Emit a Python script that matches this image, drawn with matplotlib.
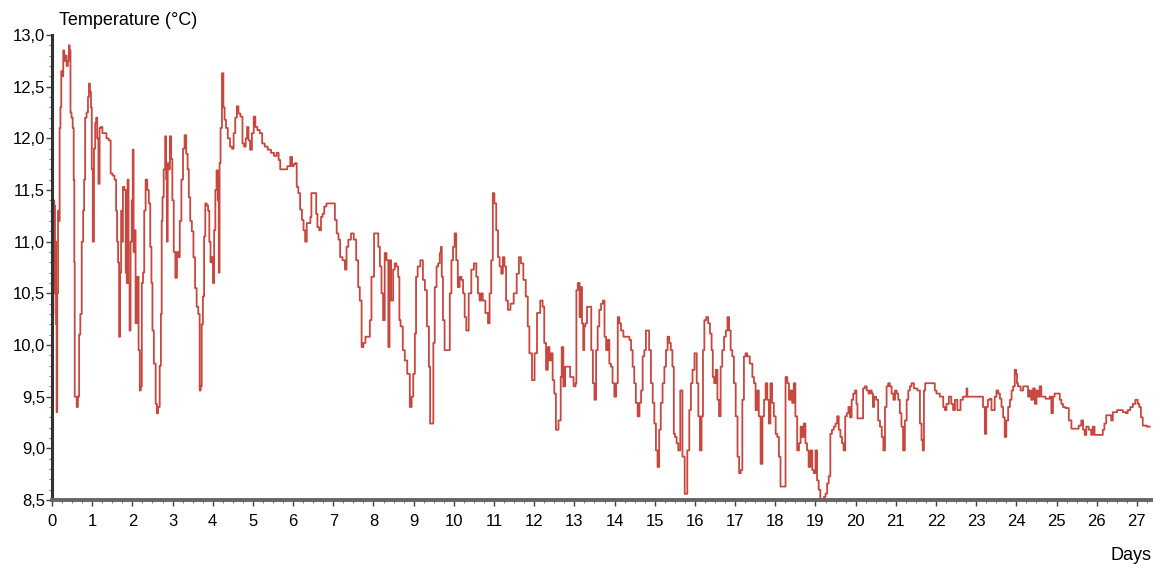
import matplotlib
matplotlib.use("Agg")
import matplotlib.pyplot as plt
from matplotlib.ticker import MultipleLocator
import numpy as np

plt.rcParams['font.family'] = ['Liberation Sans', 'DejaVu Sans']

# temperature log (day, degC)
days = [
    0.03, 0.04, 0.07, 0.08, 0.09, 0.11, 0.12, 0.14, 0.16, 0.18, 0.20, 0.22, 0.24, 0.27, 0.29,
    0.32, 0.35, 0.38, 0.41, 0.43, 0.45, 0.47, 0.50, 0.53, 0.55, 0.56, 0.57, 0.60, 0.63, 0.66,
    0.69, 0.72, 0.76, 0.79, 0.81, 0.84, 0.88, 0.91, 0.93, 0.96, 0.98, 1.00, 1.03, 1.06, 1.09,
    1.11, 1.14, 1.17, 1.20, 1.23, 1.28, 1.33, 1.38, 1.44, 1.48, 1.53, 1.58, 1.61, 1.63, 1.66,
    1.68, 1.71, 1.73, 1.75, 1.78, 1.82, 1.85, 1.87, 1.89, 1.92, 1.94, 1.97, 2.00, 2.02, 2.04,
    2.06, 2.10, 2.14, 2.17, 2.20, 2.22, 2.25, 2.28, 2.31, 2.35, 2.39, 2.43, 2.46, 2.49, 2.51,
    2.56, 2.60, 2.62, 2.66, 2.70, 2.72, 2.74, 2.76, 2.80, 2.83, 2.85, 2.87, 2.89, 2.92, 2.95,
    2.98, 3.01, 3.05, 3.09, 3.13, 3.16, 3.20, 3.24, 3.28, 3.32, 3.36, 3.39, 3.42, 3.46, 3.50,
    3.54, 3.58, 3.62, 3.66, 3.69, 3.71, 3.74, 3.77, 3.80, 3.83, 3.87, 3.90, 3.93, 3.96, 3.99,
    4.02, 4.05, 4.08, 4.11, 4.14, 4.16, 4.18, 4.21, 4.25, 4.28, 4.31, 4.35, 4.40, 4.46, 4.50,
    4.54, 4.58, 4.62, 4.66, 4.72, 4.76, 4.80, 4.84, 4.87, 4.91, 4.95, 5.00, 5.04, 5.08, 5.14,
    5.20, 5.26, 5.33, 5.41, 5.49, 5.56, 5.62, 5.66, 5.70, 5.80, 5.91, 5.95, 6.00, 6.03,
    6.07, 6.11, 6.15, 6.20, 6.24, 6.28, 6.32, 6.36, 6.42, 6.44, 6.47, 6.57, 6.58, 6.63, 6.67,
    6.72, 6.75, 6.80, 6.86, 7.02, 7.06, 7.11, 7.15, 7.19, 7.27, 7.31, 7.35, 7.40, 7.48, 7.54,
    7.60, 7.64, 7.68, 7.73, 7.77, 7.83, 7.89, 7.93, 7.97, 8.06, 8.10, 8.14, 8.18, 8.22, 8.26,
    8.30, 8.35, 8.39, 8.41, 8.47, 8.51, 8.55, 8.59, 8.64, 8.65, 8.70, 8.76, 8.80, 8.88, 8.93,
    8.97, 9.01, 9.05, 9.07, 9.13, 9.20, 9.26, 9.30, 9.36, 9.40, 9.42, 9.48, 9.50, 9.55, 9.59,
    9.63, 9.67, 9.69, 9.71, 9.75, 9.79, 9.88, 9.92, 9.96, 10.00, 10.04, 10.08, 10.12, 10.17, 10.21,
    10.25, 10.29, 10.33, 10.41, 10.46, 10.54, 10.58, 10.62, 10.66, 10.70, 10.74, 10.83, 10.87, 10.91, 10.95,
    10.99, 11.03, 11.08, 11.12, 11.16, 11.20, 11.24, 11.28, 11.32, 11.37, 11.45, 11.53, 11.60, 11.64, 11.70,
    11.76, 11.82, 11.86, 11.90, 11.99, 12.03, 12.11, 12.19, 12.23, 12.27, 12.32, 12.36, 12.40, 12.44, 12.48,
    12.52, 12.56, 12.65, 12.67, 12.70, 12.75, 12.79, 12.85, 12.94, 13.02,
    13.04, 13.06, 13.11, 13.15, 13.17, 13.21, 13.23, 13.26, 13.29, 13.34, 13.40, 13.44, 13.48, 13.52, 13.56,
    13.60, 13.64, 13.69, 13.73, 13.77, 13.81, 13.85, 13.89, 13.93, 13.97, 14.02, 14.06, 14.10, 14.14, 14.18,
    14.26, 14.35, 14.39, 14.43, 14.47, 14.51, 14.55, 14.60, 14.64, 14.68, 14.72, 14.76, 14.80, 14.84, 14.88,
    14.93, 14.97, 15.01, 15.05, 15.09, 15.13, 15.17, 15.22, 15.26, 15.30, 15.34, 15.38, 15.42, 15.46, 15.49,
    15.52, 15.57, 15.60, 15.67, 15.71, 15.78, 15.84, 15.88, 15.92, 15.96, 16.02, 16.07, 16.10, 16.15, 16.18,
    16.22, 16.25, 16.31, 16.35, 16.40, 16.43, 16.46, 16.50, 16.54, 16.58, 16.62, 16.66, 16.70, 16.75, 16.79,
    16.83, 16.87, 16.91, 16.95, 16.99, 17.04, 17.08, 17.12, 17.16, 17.20, 17.24, 17.28, 17.32, 17.41, 17.45,
    17.49, 17.53, 17.57, 17.61, 17.66, 17.70, 17.74, 17.78, 17.82, 17.86, 17.90, 17.94, 17.99, 18.03, 18.07,
    18.11, 18.15, 18.23, 18.28, 18.32, 18.36, 18.40, 18.44, 18.48, 18.52, 18.57, 18.61, 18.65, 18.69, 18.73,
    18.77, 18.81, 18.85, 18.90, 18.94, 18.98, 19.02, 19.06, 19.10, 19.14, 19.19, 19.23, 19.27, 19.31, 19.35,
    19.39, 19.43, 19.48, 19.52, 19.56, 19.60, 19.64, 19.68, 19.72, 19.76,
    19.80, 19.84, 19.88, 19.92, 19.96, 20.01, 20.03, 20.06, 20.17, 20.20, 20.25, 20.30, 20.34, 20.38, 20.42,
    20.44, 20.48, 20.54, 20.58, 20.63, 20.67, 20.71, 20.75, 20.79, 20.83, 20.87, 20.92, 20.96, 21.00, 21.04,
    21.08, 21.12, 21.16, 21.20, 21.25, 21.29, 21.33, 21.37, 21.41, 21.49, 21.58, 21.62, 21.66, 21.68, 21.72,
    21.74, 21.95, 21.99, 22.03, 22.16, 22.20, 22.24, 22.28, 22.36, 22.40, 22.45, 22.49, 22.57, 22.65, 22.69,
    22.75, 22.77, 22.79, 23.15, 23.19,
    23.24, 23.26, 23.32, 23.36, 23.40, 23.44, 23.48, 23.53, 23.57, 23.61, 23.65, 23.69, 23.73, 23.77, 23.82,
    23.86, 23.90, 23.94, 23.98, 24.01, 24.02, 24.06, 24.15, 24.19, 24.27, 24.31, 24.35, 24.39, 24.44, 24.48,
    24.52, 24.56, 24.60, 24.64, 24.81, 24.85, 24.89, 24.93, 24.97, 25.06, 25.10, 25.14, 25.18, 25.26, 25.35,
    25.39, 25.51, 25.59, 25.64, 25.68, 25.72, 25.76, 25.84, 25.88, 25.92, 25.97, 26.13, 26.17, 26.21, 26.26,
    26.34, 26.38, 26.42, 26.59, 26.71, 26.75, 26.79, 26.88, 26.92, 27.00, 27.04, 27.08, 27.12, 27.17, 27.32,
]
temps = [
    10.30, 11.40, 11.35, 10.50, 11.00, 10.20, 9.35, 10.50, 11.30, 11.20, 12.10, 12.30, 12.65, 12.60, 12.85,
    12.75, 12.80, 12.70, 12.75, 12.90, 12.85, 12.25, 12.20, 12.10, 11.60, 10.80, 9.50, 9.50, 9.40, 9.50,
    10.10, 10.30, 11.00, 11.30, 11.60, 12.20, 12.25, 12.40, 12.53, 12.45, 12.30, 11.70, 11.00, 11.90, 12.15,
    12.20, 12.00, 11.56, 12.10, 12.11, 12.05, 12.05, 12.00, 11.98, 11.66, 11.64, 11.60, 11.30, 11.00, 10.80,
    10.08, 10.70, 11.30, 11.00, 11.53, 11.50, 10.70, 10.60, 11.60, 10.60, 10.14, 11.00, 11.40, 11.89, 10.90,
    11.11, 10.21, 10.66, 9.95, 9.56, 9.60, 10.60, 10.70, 11.30, 11.60, 11.50, 11.37, 10.95, 10.60, 10.14,
    9.82, 9.43, 9.34, 9.40, 9.80, 10.30, 11.20, 11.43, 11.70, 12.02, 11.60, 11.00, 11.76, 11.70, 12.02,
    11.80, 11.40, 10.90, 10.65, 10.90, 10.85, 11.20, 11.60, 11.90, 12.03, 11.85, 11.70, 11.43, 11.20, 11.10,
    10.85, 10.55, 10.37, 10.30, 9.56, 9.60, 10.20, 10.47, 11.05, 11.37, 11.35, 11.30, 11.00, 10.80, 10.85,
    10.60, 11.11, 11.50, 11.69, 11.40, 10.70, 11.76, 12.10, 12.63, 12.30, 12.18, 12.10, 12.00, 11.92, 11.90,
    12.05, 12.20, 12.31, 12.24, 12.21, 11.95, 11.92, 12.00, 12.11, 11.98, 11.89, 12.05, 12.21, 12.11, 12.08,
    12.05, 11.95, 11.92, 11.89, 11.86, 11.83, 11.86, 11.79, 11.70, 11.70, 11.73, 11.82, 11.73, 11.75,
    11.76, 11.53, 11.47, 11.31, 11.21, 11.11, 11.00, 11.18, 11.18, 11.24, 11.47, 11.47, 11.27, 11.14, 11.11,
    11.24, 11.27, 11.34, 11.37, 11.37, 11.21, 11.08, 11.02, 10.85, 10.82, 10.73, 10.95, 11.02, 11.08, 11.02,
    10.82, 10.56, 10.43, 9.98, 10.02, 10.08, 10.08, 10.24, 10.66, 11.08, 11.08, 10.95, 10.76, 10.50, 10.24,
    10.89, 10.82, 9.98, 10.82, 10.43, 10.73, 10.79, 10.76, 10.66, 10.24, 10.18, 9.95, 9.85, 9.72, 9.40,
    9.50, 9.72, 10.11, 10.66, 10.76, 10.82, 10.63, 10.53, 10.18, 9.79, 9.24, 9.24, 10.02, 10.56, 10.76,
    10.79, 10.89, 10.95, 10.66, 10.24, 9.95, 9.95, 10.50, 10.82, 10.95, 11.08, 10.82, 10.56, 10.66, 10.63,
    10.50, 10.27, 10.14, 10.50, 10.73, 10.79, 10.66, 10.50, 10.43, 10.50, 10.43, 10.31, 10.21, 10.50, 10.82,
    11.47, 11.37, 11.11, 10.85, 10.76, 10.69, 10.85, 10.76, 10.43, 10.34, 10.40, 10.50, 10.69, 10.85, 10.79,
    10.63, 10.47, 10.18, 9.92, 9.66, 9.92, 10.31, 10.43, 10.37, 10.02, 9.76, 9.98, 9.85, 9.92, 9.66,
    9.53, 9.18, 9.27, 9.69, 9.98, 9.60, 9.79, 9.79, 9.69, 9.60,
    9.63, 10.53, 10.60, 10.27, 10.56, 10.21, 9.95, 10.18, 10.21, 10.37, 10.37, 9.95, 9.63, 9.47, 9.95,
    10.18, 10.34, 10.40, 10.43, 10.08, 9.95, 10.05, 9.82, 9.79, 9.63, 9.50, 9.63, 10.27, 10.21, 10.14,
    10.08, 10.08, 10.05, 9.95, 9.79, 9.63, 9.44, 9.31, 9.44, 9.56, 9.89, 9.95, 10.14, 10.14, 9.95,
    9.63, 9.44, 9.24, 8.98, 8.82, 9.18, 9.44, 9.63, 9.79, 9.95, 10.08, 10.02, 9.95, 9.79, 9.14,
    9.11, 9.05, 8.98, 9.56, 8.92, 8.56, 8.98, 9.37, 9.63, 9.76, 9.92, 9.63, 9.31, 8.98, 9.31,
    9.95, 10.24, 10.27, 10.21, 10.11, 9.95, 9.69, 9.63, 9.76, 9.47, 9.31, 9.79, 9.95, 10.08, 10.14,
    10.27, 10.14, 9.95, 9.89, 9.63, 9.31, 8.92, 8.76, 8.79, 9.47, 9.89, 9.92, 9.89, 9.82, 9.69,
    9.63, 9.37, 9.56, 9.31, 8.85, 9.31, 9.47, 9.63, 9.47, 9.24, 9.63, 9.44, 9.31, 9.14, 9.11,
    8.92, 8.63, 8.63, 9.69, 9.63, 9.47, 9.56, 9.44, 9.63, 9.31, 8.98, 9.05, 9.21, 9.11, 9.24,
    9.05, 8.98, 8.82, 8.98, 8.79, 8.76, 8.98, 8.69, 8.60, 8.50, 8.47, 8.53, 8.56, 8.66, 8.73,
    9.14, 9.18, 9.21, 9.24, 9.31, 9.18, 9.11, 9.05, 8.98, 9.31,
    9.34, 9.40, 9.30, 9.47, 9.53, 9.56, 9.43, 9.29, 9.29, 9.58, 9.60, 9.56, 9.53, 9.56, 9.53,
    9.40, 9.50, 9.47, 9.27, 9.21, 9.11, 8.98, 9.40, 9.60, 9.63, 9.60, 9.53, 9.47, 9.56, 9.53,
    9.47, 9.34, 9.21, 8.98, 9.27, 9.47, 9.56, 9.60, 9.63, 9.58, 9.56, 9.24, 9.08, 8.98, 9.56,
    9.63, 9.63, 9.56, 9.53, 9.50, 9.40, 9.37, 9.43, 9.50, 9.43, 9.37, 9.47, 9.37, 9.47, 9.50,
    9.50, 9.58, 9.50, 9.50, 9.40,
    9.14, 9.40, 9.47, 9.48, 9.37, 9.37, 9.50, 9.56, 9.53, 9.48, 9.40, 9.30, 9.11, 9.27, 9.40,
    9.47, 9.56, 9.60, 9.76, 9.72, 9.63, 9.60, 9.56, 9.60, 9.60, 9.50, 9.56, 9.47, 9.58, 9.43,
    9.56, 9.50, 9.60, 9.50, 9.48, 9.50, 9.34, 9.50, 9.53, 9.53, 9.47, 9.43, 9.40, 9.39, 9.27,
    9.19, 9.19, 9.22, 9.27, 9.18, 9.13, 9.21, 9.18, 9.13, 9.21, 9.13, 9.13, 9.18, 9.24, 9.32,
    9.32, 9.27, 9.35, 9.37, 9.35, 9.34, 9.37, 9.40, 9.43, 9.47, 9.43, 9.40, 9.30, 9.22, 9.21,
]

y_ticks = [8.5, 9.0, 9.5, 10.0, 10.5, 11.0, 11.5, 12.0, 12.5, 13.0]
y_labels = ['8,5', '9,0', '9,5', '10,0', '10,5', '11,0', '11,5', '12,0', '12,5', '13,0']
x_ticks = list(range(0, 28))

fig = plt.figure(figsize=(11.53, 5.68), dpi=100)
ax = fig.add_axes([0.0451, 0.1197, 0.9549, 0.8187])

# logger data: stepped trace
ax.plot(days, temps, drawstyle='steps-mid', color='#c8473f', lw=1.3)

ax.set_xlim(0, 27.4)
ax.set_ylim(8.5, 13.0)
ax.set_xticks(x_ticks)
ax.set_yticks(y_ticks)
ax.set_yticklabels(y_labels)
ax.xaxis.set_minor_locator(MultipleLocator(0.25))
ax.yaxis.set_minor_locator(MultipleLocator(0.1))

for s in ['top', 'right']:
    ax.spines[s].set_visible(False)
ax.spines['left'].set_color('#333333')
ax.spines['left'].set_linewidth(2.2)
ax.spines['bottom'].set_color('#666666')
ax.spines['bottom'].set_linewidth(2.8)

ax.tick_params(axis='both', which='major', labelsize=12, length=4, width=1, color='#444444')
ax.tick_params(axis='x', which='major', pad=6)
ax.tick_params(axis='y', which='major', pad=1)
ax.tick_params(axis='both', which='minor', length=2, width=0.8, color='#777777')

fig.text(0.051, 0.964, 'Temperature (°C)', fontsize=13, ha='left', va='center')
fig.text(0.999, 0.022, 'Days', fontsize=13, ha='right', va='center')

fig.savefig('out.png', dpi=100)
